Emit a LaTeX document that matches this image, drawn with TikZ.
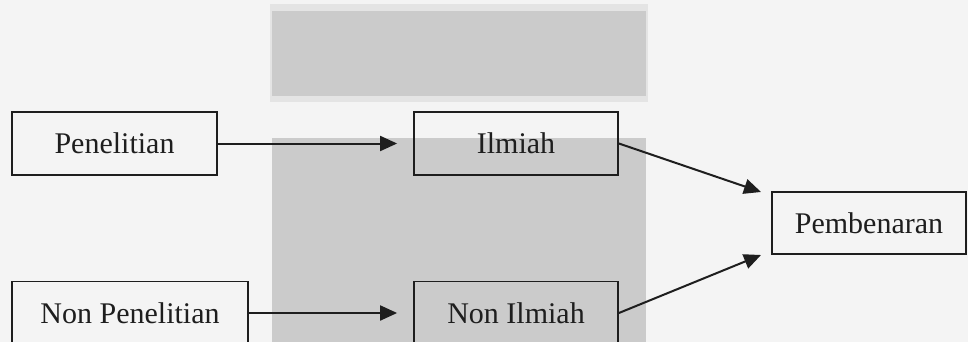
\documentclass[tikz,border=0pt]{standalone}
\usepackage{fontspec}
\setmainfont{Liberation Serif}
\usetikzlibrary{arrows.meta}
\definecolor{bgc}{HTML}{F4F4F4}
\definecolor{bandc}{HTML}{CBCBCB}
\definecolor{bandedge}{HTML}{E4E4E4}
\definecolor{inkc}{HTML}{1E1E1E}
\tikzset{
  box/.style={draw=inkc, line width=1.8pt, minimum height=63pt, inner sep=0pt,
    font=\fontsize{30}{36}\selectfont, text=inkc},
  conn/.style={draw=inkc, line width=2pt, -{Triangle[length=17pt,width=15pt]}}
}
\begin{document}
\begin{tikzpicture}[x=1pt,y=-1pt]
\useasboundingbox (0,0) rectangle (968,342);
\fill[bgc] (0,0) rectangle (968,342);
% background bands
\fill[bandedge] (270,4) rectangle (648,102);
\fill[bandc] (272,11) rectangle (646,96);
\fill[bandc] (272,138) rectangle (646,342);
% nodes
\node[box, minimum width=205pt] (pen) at (114.5,143.5) {Penelitian};
\node[box, minimum width=204pt] (ilm) at (516,143.5) {Ilmiah};
\node[box, minimum width=236pt] (npen) at (130,313) {Non Penelitian};
\node[box, minimum width=204pt] (nilm) at (516,313) {Non Ilmiah};
\node[box, minimum width=194pt, minimum height=62pt] (pbn) at (869,223) {Pembenaran};
\coordinate (t1) at (761,192);
\coordinate (t2) at (761,255);
% connectors
\draw[conn, shorten >=16pt] (pen.east) -- (ilm.west);
\draw[conn, shorten >=16pt] (npen.east) -- (nilm.west);
\draw[conn] (ilm.east) -- (t1);
\draw[conn] (nilm.east) -- (t2);
\end{tikzpicture}
\end{document}
